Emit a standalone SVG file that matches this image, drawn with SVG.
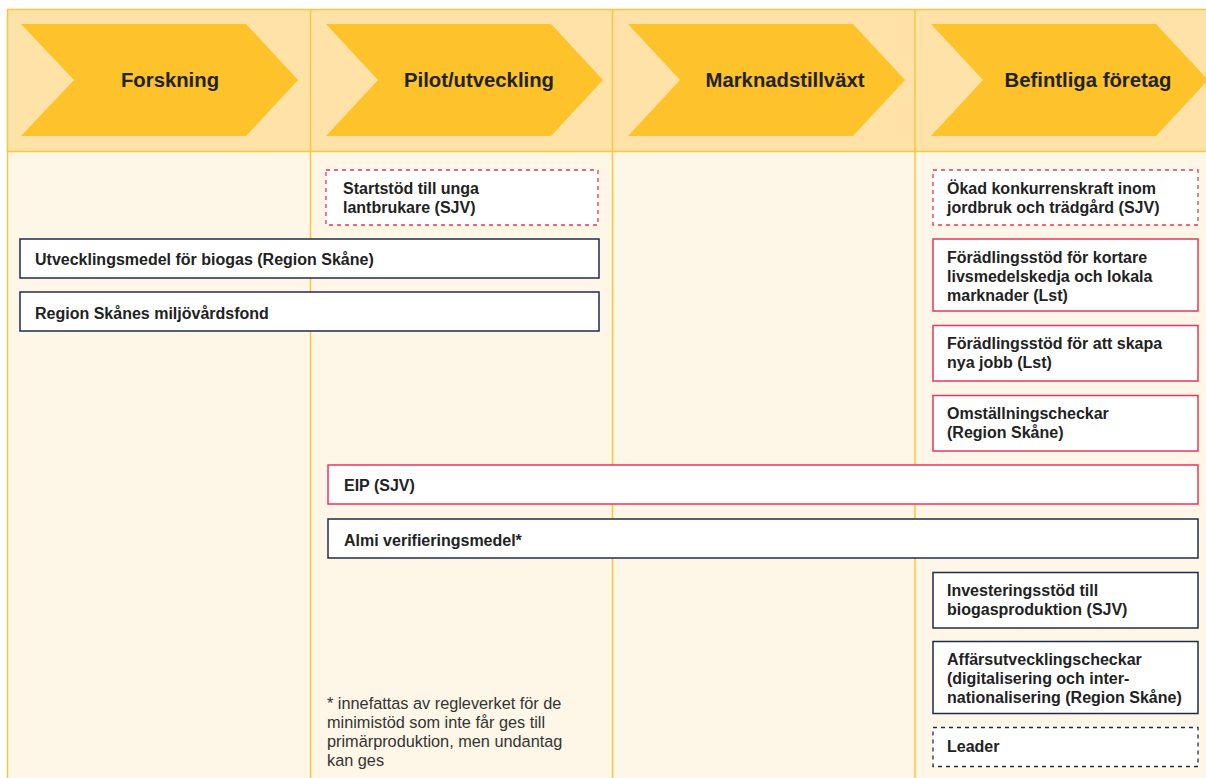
<svg xmlns="http://www.w3.org/2000/svg" width="1206" height="778" viewBox="0 0 1206 778">
<style>
.hdr{font-family:"Liberation Sans",Arial,sans-serif;font-weight:bold;font-size:20.3px;fill:#222;text-anchor:middle}
.t{font-family:"Liberation Sans",Arial,sans-serif;font-weight:bold;font-size:16px;fill:#222}
.fn{font-family:"Liberation Sans",Arial,sans-serif;font-size:16.3px;fill:#333}
.chev{fill:#FEC22A}
.col{stroke:#FDC53A;stroke-width:1.5;fill:none}
.red{fill:#fff;stroke:#E8365C;stroke-width:1.5}
.redd{fill:#fff;stroke:#E8365C;stroke-width:1.3;stroke-dasharray:4 4}
.navy{fill:#fff;stroke:#1D2B4C;stroke-width:1.5}
.navyd{fill:#fff;stroke:#1D2B4C;stroke-width:1.3;stroke-dasharray:4 4}
</style>
<rect width="1206" height="778" fill="#fff"/>
<g id="background">
<rect x="7.5" y="9.5" width="1199" height="142" fill="#FEE2A8"/>
<rect x="7.5" y="151.5" width="1199" height="627" fill="#FEF6E6"/>
<path class="col" d="M7.5 778V9.5H1206M7.5 151.5H1206M310.5 9.5V778M612.5 9.5V778M915 9.5V778"/>
</g>
<g id="header-forskning">
<polygon class="chev" points="21,24 246,24 298,80 246,136 21,136 74,80"/>
<text class="hdr" x="170" y="87">Forskning</text>
</g>
<g id="header-pilot">
<polygon class="chev" points="326,24 551,24 603,80 551,136 326,136 378,80"/>
<text class="hdr" x="479" y="87">Pilot/utveckling</text>
</g>
<g id="header-marknad">
<polygon class="chev" points="628,24 853,24 905,80 853,136 628,136 680,80"/>
<text class="hdr" x="785" y="87">Marknadstillväxt</text>
</g>
<g id="header-befintliga">
<polygon class="chev" points="931,24 1156,24 1208,80 1156,136 931,136 983,80"/>
<text class="hdr" x="1088" y="87">Befintliga företag</text>
</g>
<g id="connectors"></g>
<g id="startstod">
<rect class="redd" x="326" y="170" width="272" height="55"/>
<text class="t" x="343" y="194">Startstöd till unga</text>
<text class="t" x="343" y="213">lantbrukare (SJV)</text>
</g>
<g id="utvecklingsmedel">
<rect class="navy" x="20" y="239" width="579" height="39"/>
<text class="t" x="35" y="265">Utvecklingsmedel för biogas (Region Skåne)</text>
</g>
<g id="miljovardsfond">
<rect class="navy" x="20" y="292" width="579" height="39"/>
<text class="t" x="35" y="319">Region Skånes miljövårdsfond</text>
</g>
<g id="okad">
<rect class="redd" x="933" y="170" width="265" height="55"/>
<text class="t" x="947" y="194">Ökad konkurrenskraft inom</text>
<text class="t" x="947" y="213">jordbruk och trädgård (SJV)</text>
</g>
<g id="foradling-kortare">
<rect class="red" x="933" y="239" width="265" height="72"/>
<text class="t" x="947" y="263">Förädlingsstöd för kortare</text>
<text class="t" x="947" y="282">livsmedelskedja och lokala</text>
<text class="t" x="947" y="301">marknader (Lst)</text>
</g>
<g id="foradling-jobb">
<rect class="red" x="933" y="325.5" width="265" height="55.5"/>
<text class="t" x="947" y="349">Förädlingsstöd för att skapa</text>
<text class="t" x="947" y="368">nya jobb (Lst)</text>
</g>
<g id="omstallning">
<rect class="red" x="933" y="395.5" width="265" height="55.5"/>
<text class="t" x="947" y="419">Omställningscheckar</text>
<text class="t" x="947" y="438">(Region Skåne)</text>
</g>
<g id="eip">
<rect class="red" x="328" y="465" width="870" height="39"/>
<text class="t" x="344" y="491">EIP (SJV)</text>
</g>
<g id="almi">
<rect class="navy" x="328" y="519" width="870" height="39"/>
<text class="t" x="344" y="546">Almi verifieringsmedel*</text>
</g>
<g id="investeringsstod">
<rect class="navy" x="933" y="572.5" width="265" height="55.5"/>
<text class="t" x="947" y="596">Investeringsstöd till</text>
<text class="t" x="947" y="615">biogasproduktion (SJV)</text>
</g>
<g id="affarsutveckling">
<rect class="navy" x="933" y="641.5" width="265" height="72"/>
<text class="t" x="947" y="665">Affärsutvecklingscheckar</text>
<text class="t" x="947" y="684">(digitalisering och inter-</text>
<text class="t" x="947" y="703">nationalisering (Region Skåne)</text>
</g>
<g id="leader">
<rect class="navyd" x="933" y="727.5" width="265" height="39"/>
<text class="t" x="947" y="752">Leader</text>
</g>
<g id="footnote">
<text class="fn" x="327" y="709">* innefattas av regleverket för de</text>
<text class="fn" x="327" y="728">minimistöd som inte får ges till</text>
<text class="fn" x="327" y="747">primärproduktion, men undantag</text>
<text class="fn" x="327" y="766">kan ges</text>
</g>
</svg>
